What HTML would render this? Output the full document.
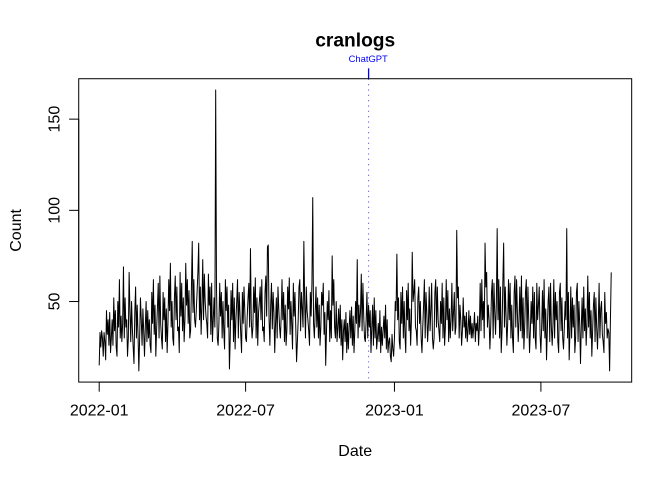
<!DOCTYPE html>
<html>
<head>
<meta charset="utf-8">
<style>
html,body{margin:0;padding:0;background:#fff;}
svg{display:block;}
text{font-family:"Liberation Sans",Arial,sans-serif;}
</style>
</head>
<body>
<svg width="672" height="480" viewBox="0 0 672 480" xmlns="http://www.w3.org/2000/svg">
<rect x="0" y="0" width="672" height="480" fill="#fff"/>

<text x="355.2" y="46.7" font-size="19.2" font-weight="bold" text-anchor="middle" fill="#000">cranlogs</text>

<text x="368.2" y="61.8" font-size="9.4" text-anchor="middle" fill="#0000ff">ChatGPT</text>
<line x1="368.6" y1="68.3" x2="368.6" y2="78.72" stroke="#0000ff" stroke-width="1.3"/>
<line x1="368.6" y1="78.72" x2="368.6" y2="382.08" stroke="#6a6aff" stroke-width="1" stroke-dasharray="1.33 4"/>

<g transform="translate(99.2,392.73) scale(0.8089,-1.82395)">
<polyline fill="none" stroke="#000" stroke-width="1" vector-effect="non-scaling-stroke" stroke-linejoin="round" points="
0,15 1,33 2,25 3,34 4,30 5,20 6,33
7,28 8,18 9,45 10,32 11,40 12,26 13,44
14,22 15,30 16,40 17,26 18,52 19,34 20,45
21,25 22,20 23,50 24,36 25,62 26,30 27,42
28,28 29,38 30,69 31,30 32,52 33,36 34,40
35,20 36,30 37,66 38,45 39,28 40,50 41,35
42,25 43,16 44,44 45,58 46,30 47,48 48,32
49,12 50,30 51,52 52,40 53,26 54,46 55,34
56,20 57,36 58,50 59,28 60,45 61,30 62,40
63,26 64,22 65,55 66,38 67,62 68,32 69,48
70,20 71,35 72,47 73,60 74,30 75,64 76,38
77,30 78,24 79,55 80,40 81,52 82,28 83,46
84,22 85,38 86,62 87,45 88,71 89,36 90,50
91,30 92,26 93,52 94,64 95,40 96,58 97,34
98,36 99,22 100,66 101,42 102,60 103,34 104,52
105,28 106,40 107,71 108,48 109,62 110,38 111,56
112,30 113,34 114,57 115,83 116,44 117,62 118,40
119,36 120,45 121,55 122,66 123,82 124,40 125,58
126,32 127,48 128,73 129,40 130,65 131,50 132,42
133,38 134,30 135,65 136,48 137,58 138,32 139,60
140,28 141,40 142,52 143,36 144,166 145,58 146,30
147,26 148,38 149,60 150,42 151,55 152,30 153,50
154,34 155,24 156,62 157,45 158,58 159,36 160,48
161,13 162,30 163,56 164,40 165,60 166,28 167,52
168,24 169,40 170,50 171,62 172,30 173,55 174,44
175,32 176,22 177,55 178,38 179,58 180,45 181,30
182,28 183,42 184,52 185,60 186,36 187,79 188,40
189,30 190,36 191,58 192,44 193,63 194,30 195,52
196,26 197,44 198,50 199,58 200,40 201,62 202,34
203,36 204,28 205,55 206,64 207,42 208,80 209,81
210,40 211,26 212,48 213,60 214,35 215,55 216,44
217,22 218,38 219,52 220,30 221,58 222,46 223,36
224,30 225,42 226,62 227,40 228,55 229,28 230,48
231,26 232,34 233,58 234,46 235,63 236,32 237,50
238,38 239,24 240,60 241,42 242,55 243,36 244,17
245,28 246,40 247,58 248,62 249,34 250,55 251,46
252,36 253,83 254,50 255,30 256,58 257,45 258,40
259,34 260,26 261,55 262,42 263,60 264,107 265,38
266,30 267,44 268,58 269,36 270,52 271,30 272,48
273,26 274,36 275,55 276,48 277,60 278,32 279,44
280,15 281,34 282,50 283,40 284,56 285,28 286,45
287,30 288,75 289,48 290,62 291,36 292,30 293,50
294,28 295,36 296,46 297,30 298,48 299,26 300,40
301,18 302,34 303,40 304,28 305,44 306,22 307,38
308,24 309,36 310,45 311,30 312,47 313,26 314,42
315,22 316,34 317,50 318,38 319,73 320,30 321,48
322,36 323,44 324,65 325,34 326,60 327,42 328,30
329,28 330,40 331,55 332,30 333,48 334,36 335,45
336,22 337,36 338,48 339,26 340,52 341,30 342,45
343,24 344,30 345,38 346,28 347,45 348,22 349,36
350,26 351,34 352,42 353,30 354,48 355,24 356,40
357,22 358,28 359,30 360,20 361,17 362,32 363,24
364,20 365,30 366,50 367,45 368,76 369,40 370,52
371,28 372,24 373,55 374,38 375,58 376,30 377,50
378,32 379,22 380,56 381,40 382,60 383,34 384,46
385,26 386,40 387,77 388,50 389,55 390,62 391,36
392,34 393,26 394,52 395,58 396,38 397,50 398,30
399,22 400,36 401,48 402,62 403,30 404,55 405,44
406,28 407,38 408,58 409,34 410,45 411,60 412,30
413,24 414,30 415,55 416,62 417,36 418,58 419,40
420,34 421,28 422,50 423,38 424,60 425,30 426,52
427,26 428,36 429,62 430,40 431,56 432,28 433,46
434,30 435,40 436,60 437,34 438,44 439,55 440,32
441,36 442,89 443,52 444,58 445,30 446,48 447,40
448,26 449,34 450,52 451,36 452,42 453,30 454,44
455,28 456,34 457,45 458,32 459,42 460,30 461,38
462,30 463,36 464,44 465,28 466,38 467,34 468,42
469,26 470,36 471,60 472,34 473,62 474,40 475,50
476,30 477,82 478,58 479,66 480,36 481,48 482,40
483,24 484,36 485,55 486,62 487,30 488,60 489,44
490,32 491,50 492,90 493,40 494,62 495,30 496,58
497,22 498,34 499,60 500,82 501,36 502,58 503,42
504,26 505,38 506,62 507,40 508,60 509,30 510,48
511,30 512,22 513,55 514,64 515,36 516,62 517,44
518,28 519,40 520,58 521,34 522,64 523,30 524,52
525,24 526,36 527,55 528,62 529,30 530,58 531,40
532,22 533,34 534,50 535,38 536,58 537,30 538,55
539,30 540,24 541,60 542,40 543,48 544,58 545,32
546,22 547,36 548,56 549,34 550,62 551,30 552,46
553,18 554,34 555,50 556,58 557,28 558,60 559,36
560,26 561,38 562,62 563,30 564,55 565,40 566,50
567,28 568,22 569,55 570,60 571,34 572,52 573,30
574,24 575,36 576,50 577,40 578,90 579,30 580,55
581,18 582,34 583,58 584,30 585,52 586,36 587,48
588,22 589,30 590,55 591,60 592,28 593,50 594,38
595,16 596,36 597,52 598,30 599,58 600,34 601,46
602,26 603,38 604,64 605,36 606,55 607,30 608,45
609,20 610,34 611,48 612,55 613,28 614,52 615,36
616,24 617,38 618,60 619,30 620,46 621,50 622,32
623,28 624,22 625,55 626,38 627,44 628,30 629,35
630,33 631,12 632,40 633,66"/>
</g>

<rect x="78.72" y="78.72" width="552.96" height="303.36" fill="none" stroke="#000" stroke-width="1"/>

<g stroke="#000" stroke-width="1">
<line x1="78.72" y1="119.14" x2="78.72" y2="301.53"/>
<line x1="69.12" y1="119.14" x2="78.72" y2="119.14"/>
<line x1="69.12" y1="210.34" x2="78.72" y2="210.34"/>
<line x1="69.12" y1="301.53" x2="78.72" y2="301.53"/>
</g>
<g font-size="16" fill="#000" text-anchor="middle">
<text transform="translate(59.3,119.14) rotate(-90)">150</text>
<text transform="translate(59.3,210.34) rotate(-90)">100</text>
<text transform="translate(59.3,301.53) rotate(-90)">50</text>
</g>

<g stroke="#000" stroke-width="1">
<line x1="99.2" y1="382.08" x2="540.9" y2="382.08"/>
<line x1="99.2" y1="382.08" x2="99.2" y2="391.68"/>
<line x1="245.6" y1="382.08" x2="245.6" y2="391.68"/>
<line x1="394.45" y1="382.08" x2="394.45" y2="391.68"/>
<line x1="540.9" y1="382.08" x2="540.9" y2="391.68"/>
</g>
<g font-size="16" fill="#000" text-anchor="middle">
<text x="99.2" y="415.6">2022-01</text>
<text x="245.6" y="415.6">2022-07</text>
<text x="394.45" y="415.6">2023-01</text>
<text x="540.9" y="415.6">2023-07</text>
</g>

<text x="355.2" y="456" font-size="16" text-anchor="middle" fill="#000">Date</text>
<text transform="translate(20.8,230.4) rotate(-90)" font-size="16" text-anchor="middle" fill="#000">Count</text>
</svg>
</body>
</html>
